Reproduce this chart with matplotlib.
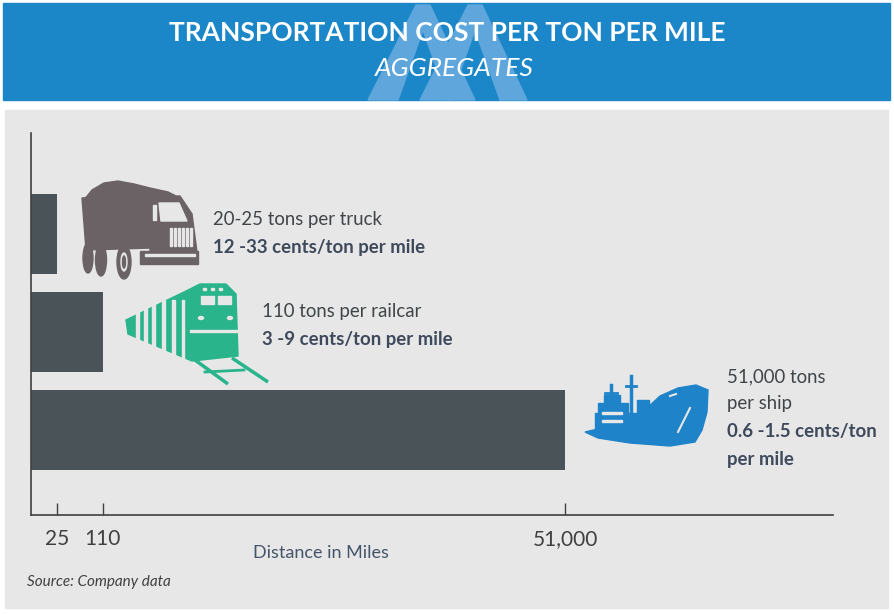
import numpy as np
import matplotlib
matplotlib.use("Agg")
import matplotlib.pyplot as plt
from matplotlib.patches import Rectangle, Polygon, Ellipse

plt.rcParams['font.family'] = ['Lato', 'DejaVu Sans']

# data
modes = ['truck', 'railcar', 'ship']
distance = [25, 110, 51000]
tick_vals = [25, 110, 51000]
tick_labels = ['25', '110', '51,000']
capacity = ['20-25 tons per truck', '110 tons per railcar', '51,000 tons\nper ship']
cost = ['12 -33 cents/ton per mile', '3 -9 cents/ton per mile', '0.6 -1.5 cents/ton\nper mile']

W, H = 894, 614
fig = plt.figure(figsize=(W / 100, H / 100), dpi=100)

# background: header band + grey panel
bg = fig.add_axes([0, 0, 1, 1], zorder=0)
bg.set_xlim(0, W)
bg.set_ylim(H, 0)
bg.axis('off')
bg.add_patch(Rectangle((3, 3), 887, 97, color='#1b86c8'))
wm = '#5ea6db'
for x0 in (368, 420):
    # thick chevron watermark
    bg.add_patch(Polygon([(x0, 100), (x0 + 30, 100), (x0 + 55, 30), (x0 + 80, 100),
                          (x0 + 107, 100), (x0 + 62, 5), (x0 + 48, 5)], color=wm))
bg.add_patch(Rectangle((5, 110), 883, 498, color='#e7e7e7'))
bg.text(447, 33, 'TRANSPORTATION COST PER TON PER MILE', ha='center', va='center',
        color='white', fontsize=19, fontweight='bold')
bg.text(454, 69, 'AGGREGATES', ha='center', va='center', color='white',
        fontsize=19, style='italic')

# piecewise axis: short hauls get room, ship distance compressed
knots_d = [0, 25, 110, 51000, 80000]
knots_p = [0, 26, 71.5, 534, 802]


def fwd(x):
    return np.interp(x, knots_d, knots_p)


def inv(p):
    return np.interp(p, knots_p, knots_d)


ax = fig.add_axes([31 / W, (H - 515) / H, 802 / W, 382 / H], zorder=1)
ax.set_xscale('function', functions=(fwd, inv))
ax.patch.set_alpha(0)
ypos = np.arange(len(modes))
ax.barh(ypos, distance, height=80 / 98, color='#4a5357')
ax.set_xlim(0, 80000)
ax.set_ylim(2.867, -1.031)
for s in ['top', 'right']:
    ax.spines[s].set_visible(False)
for s in ['left', 'bottom']:
    ax.spines[s].set_color('#404040')
    ax.spines[s].set_linewidth(1.2)
ax.set_yticks([])
ax.set_xticks(tick_vals)
ax.set_xticklabels(tick_labels)
ax.tick_params(axis='x', direction='in', length=9, width=1, color='#404040',
               labelsize=15, labelcolor='#404040', pad=10)
ax.minorticks_off()

# overlay: icons and annotations
ov = fig.add_axes([0, 0, 1, 1], zorder=2)
ov.set_xlim(0, W)
ov.set_ylim(H, 0)
ov.axis('off')
panel = '#e7e7e7'

# truck
tc = '#6b6265'
ov.add_patch(Polygon([(84, 200), (92, 190), (104, 183), (118, 181), (134, 184),
                      (150, 188), (168, 192), (176, 196), (150, 196)], color=tc))
ov.add_patch(Polygon([(82, 198), (152, 193), (152, 248), (86, 250)], color=tc))
ov.add_patch(Polygon([(150, 196), (180, 196), (192, 214), (197, 252), (150, 262)], color=tc))
ov.add_patch(Polygon([(159, 203), (179, 203), (187, 221), (161, 221)], color=panel))
ov.add_patch(Polygon([(153, 205), (156, 205), (156, 220), (153, 220)], color=panel))
for gx in range(170, 191, 4):
    ov.add_patch(Rectangle((gx, 228), 2, 18, color=panel))
ov.add_patch(Rectangle((140, 251), 58, 13, color=tc))
ov.add_patch(Rectangle((145, 254), 50, 1.5, color=panel))
ov.add_patch(Ellipse((88, 258), 10, 30, color=tc))
ov.add_patch(Ellipse((101, 260), 11, 32, color=tc))
ov.add_patch(Ellipse((124, 262), 14, 34, color=tc))
ov.add_patch(Ellipse((124, 262), 6, 18, color=panel))
ov.add_patch(Ellipse((124, 262), 3, 12, color=tc))

# train
gc = '#2ab48b'
ov.add_patch(Polygon([(126, 320), (184, 292), (200, 284), (226, 284), (236, 294),
                      (238, 356), (192, 361), (128, 334)], color=gc))
for sx in (136, 144, 152, 162, 172):
    ov.add_patch(Rectangle((sx, 300), 2.5, 55, color=panel))
ov.add_patch(Rectangle((182, 300), 2, 60, color=panel))
ov.add_patch(Rectangle((201, 296), 13, 8, color=panel))
ov.add_patch(Rectangle((218, 296), 13, 8, color=panel))
for dx in (203, 211, 219):
    ov.add_patch(Rectangle((dx, 288), 3, 2, color=panel))
ov.add_patch(Ellipse((201, 318), 5, 3, color=panel))
ov.add_patch(Ellipse((230, 318), 5, 3, color=panel))
ov.add_patch(Rectangle((190, 330), 48, 2, color=panel))
ov.plot([195, 228], [360, 384], color=gc, lw=2.5, solid_capstyle='butt')
ov.plot([232, 268], [358, 382], color=gc, lw=2.5, solid_capstyle='butt')
ov.plot([205, 244], [372, 370], color=gc, lw=2)

# ship
sc = '#1e83c9'
ov.add_patch(Polygon([(585, 432), (628, 422), (645, 410), (660, 396), (678, 388),
                      (696, 385), (708, 390), (707, 412), (702, 430), (695, 442),
                      (670, 446), (630, 443), (598, 438)], color=sc))
ov.add_patch(Rectangle((595, 413), 45, 16, color=sc))
ov.add_patch(Rectangle((598, 403), 30, 12, color=sc))
ov.add_patch(Rectangle((604, 395), 16, 10, color=sc))
ov.plot([611, 611], [385, 405], color=sc, lw=2.5)
ov.plot([605, 617], [393, 393], color=sc, lw=2)
ov.plot([631, 631], [376, 415], color=sc, lw=2.5)
ov.plot([626, 636], [386, 386], color=sc, lw=2)
ov.add_patch(Rectangle((637, 400), 12, 18, color=sc))
for ly in (412, 420):
    ov.add_patch(Rectangle((602, ly), 20, 2, color=panel))
ov.plot([690, 678], [408, 432], color=panel, lw=1.5)
ov.plot([670, 676], [396, 394], color=panel, lw=1.5)

# annotation text
norm_c = '#404548'
bold_c = '#3e4a5c'
fs = 13.4
ov.text(213, 220, capacity[0], fontsize=fs, color=norm_c, va='center')
ov.text(213, 248, cost[0], fontsize=fs, color=bold_c, va='center', fontweight='bold')
ov.text(262, 312, capacity[1], fontsize=fs, color=norm_c, va='center')
ov.text(262, 340, cost[1], fontsize=fs, color=bold_c, va='center', fontweight='bold')
for i, line in enumerate(capacity[2].split('\n')):
    ov.text(727, 377 + 27 * i, line, fontsize=fs, color=norm_c, va='center')
for i, line in enumerate(cost[2].split('\n')):
    ov.text(727, 432 + 28 * i, line, fontsize=fs, color=bold_c, va='center',
            fontweight='bold')

ov.text(321, 553, 'Distance in Miles', fontsize=13, color='#44546a', ha='center', va='center')
ov.text(27, 582, 'Source: Company data', fontsize=11, color='#404040', style='italic', va='center')

fig.savefig('out.png', dpi=100)
